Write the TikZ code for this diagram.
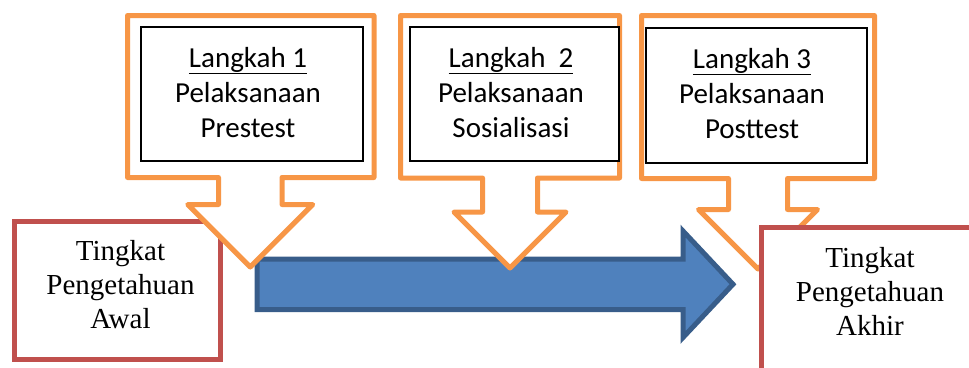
\documentclass[tikz,border=0pt]{standalone}
\usepackage{fontspec}
\setmainfont{Liberation Serif}
\newfontfamily\stepfont{Carlito}
\usepackage{tikz}
\definecolor{stepOrange}{HTML}{F79646}
\definecolor{knowRed}{HTML}{C0504D}
\definecolor{flowBlue}{HTML}{4F81BD}
\definecolor{flowBlueDark}{HTML}{385D8A}
\newcommand\plainspace{\setlength{\spaceskip}{0pt}\setlength{\xspaceskip}{0pt}}

\begin{document}
\begin{tikzpicture}[x=1pt,y=-1pt,
  callout/.style={draw=stepOrange,line width=5pt,line join=round,fill=white},
  stepbox/.style={draw=black,line width=1.5pt,fill=white,inner sep=0pt},
  steptext/.style={anchor=base,align=center,text width=190pt,inner sep=0pt,
    execute at begin node={\plainspace},
    font=\stepfont\fontsize{29}{35}\selectfont},
  knowbox/.style={draw=knowRed,line width=5pt,fill=white,inner sep=0pt},
  knowtext/.style={anchor=base,align=center,text width=190pt,inner sep=0pt,
    font=\fontsize{29}{34}\selectfont},
  flow/.style={draw=flowBlueDark,line width=5pt,fill=flowBlue}]
\useasboundingbox (0,0) rectangle (969,367);
\clip (0,0) rectangle (969,367);

\node[knowbox,minimum width=206pt,minimum height=138pt](awal) at (117.5,290.5) {};

\draw[flow] (257,259) -- (683,259) -- (683,231) -- (733,284.25) -- (683,337.5)
  -- (683,309.5) -- (257,309.5) -- cycle;

\draw[callout] (127.5,15.5) -- (374,15.5) -- (374,177.5) -- (282,177.5) -- (282,204.5)
  -- (312.75,204.5) -- (250.25,267) -- (187.75,204.5) -- (218.5,204.5) -- (218.5,177.5)
  -- (127.5,177.5) -- cycle;
\draw[callout] (400.5,15.5) -- (619.5,15.5) -- (619.5,178) -- (537.5,178) -- (537.5,212)
  -- (566,212) -- (510,268) -- (454,212) -- (482.5,212) -- (482.5,178)
  -- (400.5,178) -- cycle;
\draw[callout] (641.5,15.5) -- (874.5,15.5) -- (874.5,178.5) -- (787.5,178.5) -- (787.5,209.5)
  -- (817.5,209.5) -- (758,269) -- (698.5,209.5) -- (728.5,209.5) -- (728.5,178.5)
  -- (641.5,178.5) -- cycle;

\node[stepbox,minimum width=222pt,minimum height=134pt](s1) at (252,94) {};
\node[stepbox,minimum width=209pt,minimum height=134pt](s2) at (514.5,94) {};
\node[stepbox,minimum width=221pt,minimum height=135pt](s3) at (756.5,95.5) {};
\node[steptext](s1text) at (248,67) {\underline{Langkah 1}\\Pelaksanaan\\Prestest};
\node[steptext](s2text) at (511,67) {\underline{Langkah\ \ 2}\\Pelaksanaan\\Sosialisasi};
\node[steptext](s3text) at (752,68) {\underline{Langkah 3}\\Pelaksanaan\\Posttest};

\node[knowbox,minimum width=220pt,minimum height=150pt](akhir) at (871.5,302.5) {};

\node[knowtext](awaltext) at (120.5,260) {Tingkat\\Pengetahuan\\Awal};
\node[knowtext](akhirtext) at (870,267) {Tingkat\\Pengetahuan\\Akhir};

\end{tikzpicture}
\end{document}
